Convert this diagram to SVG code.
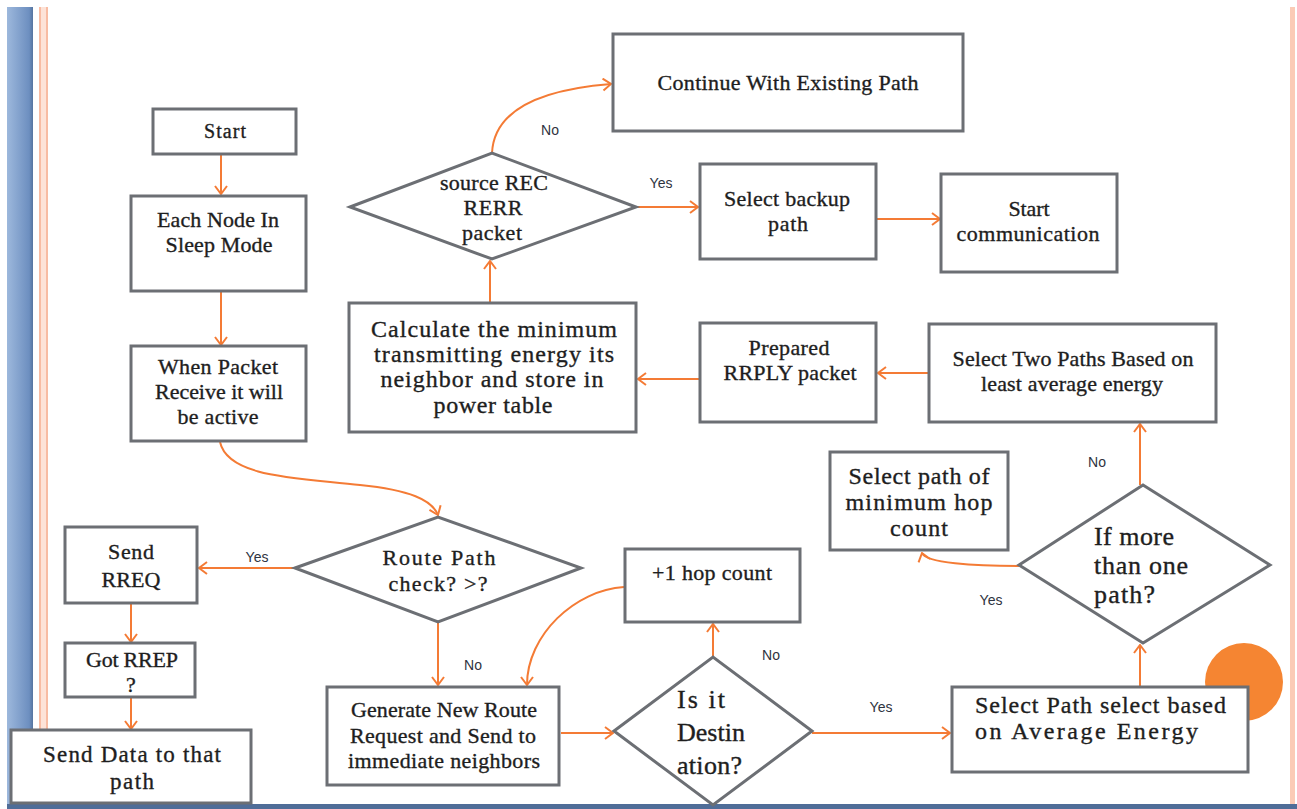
<svg xmlns="http://www.w3.org/2000/svg" width="1297" height="809" viewBox="0 0 1297 809">
<style>
.box{fill:#fff;stroke:#6c6f74;stroke-width:3}
.c{fill:none;stroke:#f47b35;stroke-width:2}
.t{font-family:"Liberation Serif","Times New Roman",serif;font-size:22px;fill:#1e1e1e;stroke:#1e1e1e;stroke-width:0.35;text-anchor:middle}
.tl{font-family:"Liberation Serif","Times New Roman",serif;font-size:26px;fill:#1e1e1e;stroke:#1e1e1e;stroke-width:0.35}
.lb{font-family:"Liberation Sans",Arial,sans-serif;font-size:14px;fill:#2e3340;text-anchor:middle}
</style>
<defs>
<linearGradient id="blue" x1="0" y1="0" x2="1" y2="0">
<stop offset="0" stop-color="#9db8dc"/><stop offset="0.85" stop-color="#6d8fc0"/><stop offset="1" stop-color="#56759f"/>
</linearGradient>
<marker id="ah" viewBox="0 0 10 14" refX="9" refY="7" markerWidth="10" markerHeight="14" markerUnits="userSpaceOnUse" orient="auto">
<path d="M1,1 L9,7 L1,13" fill="none" stroke="#f47b35" stroke-width="2"/>
</marker>
</defs>
<rect x="0" y="0" width="1297" height="809" fill="#fff"/>
<g id="frame">
<rect x="7" y="7" width="26" height="802" fill="url(#blue)"/>
<rect x="39" y="7" width="9" height="797" fill="#fde3d8"/>
<line x1="40" y1="7" x2="40" y2="804" stroke="#f8bca3" stroke-width="2"/>
<line x1="47" y1="7" x2="47" y2="804" stroke="#f8bca3" stroke-width="2"/>
<rect x="1290" y="7" width="5" height="797" fill="#fbcbb6"/>
<rect x="7" y="804" width="1290" height="5" fill="#4f6d98"/>
<circle cx="1244" cy="682" r="39" fill="#f58532"/>
</g>
<g id="connectors">
<line class="c" x1="221" y1="155" x2="221" y2="194" marker-end="url(#ah)"/>
<line class="c" x1="221" y1="292" x2="221" y2="345" marker-end="url(#ah)"/>
<path class="c" d="M220,442 C228,478 300,478 360,485 C410,490 432,500 438,515" marker-end="url(#ah)"/>
<line class="c" x1="295" y1="568" x2="199" y2="568" marker-end="url(#ah)"/>
<line class="c" x1="131" y1="604" x2="131" y2="642" marker-end="url(#ah)"/>
<line class="c" x1="131" y1="698" x2="131" y2="729" marker-end="url(#ah)"/>
<line class="c" x1="438" y1="622" x2="438" y2="685" marker-end="url(#ah)"/>
<line class="c" x1="561" y1="733" x2="613" y2="733" marker-end="url(#ah)"/>
<line class="c" x1="713" y1="657" x2="713" y2="624" marker-end="url(#ah)"/>
<path class="c" d="M624,587 C575,590 527,635 527,685" marker-end="url(#ah)"/>
<line class="c" x1="812" y1="733" x2="950" y2="733" marker-end="url(#ah)"/>
<line class="c" x1="1140" y1="686" x2="1140" y2="645" marker-end="url(#ah)"/>
<line class="c" x1="1140" y1="485" x2="1140" y2="424" marker-end="url(#ah)"/>
<path class="c" d="M1019,566 C975,566 925,563 922,553" marker-end="url(#ah)"/>
<line class="c" x1="929" y1="373" x2="878" y2="373" marker-end="url(#ah)"/>
<line class="c" x1="700" y1="379" x2="638" y2="379" marker-end="url(#ah)"/>
<line class="c" x1="490" y1="302" x2="490" y2="261" marker-end="url(#ah)"/>
<line class="c" x1="636" y1="207" x2="698" y2="207" marker-end="url(#ah)"/>
<line class="c" x1="877" y1="219" x2="940" y2="219" marker-end="url(#ah)"/>
<path class="c" d="M492,153 C494,112 535,90 611,84" marker-end="url(#ah)"/>
<text class="lb" x="550" y="135">No</text>
<text class="lb" x="661" y="188">Yes</text>
<text class="lb" x="257" y="562">Yes</text>
<text class="lb" x="473" y="670">No</text>
<text class="lb" x="771" y="660">No</text>
<text class="lb" x="881" y="712">Yes</text>
<text class="lb" x="1097" y="467">No</text>
<text class="lb" x="991" y="605">Yes</text>
</g>
<g id="n-start">
<rect class="box" x="153" y="109" width="143" height="45"/>
<text class="t" x="225" y="138" style="font-size:20px" textLength="42">Start</text>
</g>
<g id="n-sleep">
<rect class="box" x="131" y="196" width="175" height="95"/>
<text class="t" x="218" y="227" textLength="122">Each Node In</text>
<text class="t" x="219" y="252" textLength="107">Sleep Mode</text>
</g>
<g id="n-active">
<rect class="box" x="131" y="346" width="175" height="95"/>
<text class="t" x="218" y="374" textLength="120">When Packet</text>
<text class="t" x="219" y="399" textLength="128">Receive it will</text>
<text class="t" x="218" y="424" textLength="81">be active</text>
</g>
<g id="n-rreq">
<rect class="box" x="65" y="527" width="132" height="76"/>
<text class="t" x="131" y="559" textLength="46">Send</text>
<text class="t" x="131" y="587" textLength="59">RREQ</text>
</g>
<g id="n-rrep">
<rect class="box" x="65" y="643" width="130" height="54"/>
<text class="t" x="132" y="667" textLength="92">Got RREP</text>
<text class="t" x="131" y="692">?</text>
</g>
<g id="n-senddata">
<rect class="box" x="11" y="730" width="240" height="73"/>
<text class="t" x="132" y="762" style="font-size:23px" textLength="178">Send Data to that</text>
<text class="t" x="132" y="789" style="font-size:23px" textLength="44">path</text>
</g>
<g id="n-routecheck">
<polygon class="box" points="295,568 438,517 581,568 438,622"/>
<text class="t" x="439" y="565" textLength="113">Route Path</text>
<text class="t" x="438" y="591" textLength="99">check? &gt;?</text>
</g>
<g id="n-generate">
<rect class="box" x="327" y="687" width="232" height="98"/>
<text class="t" x="444" y="717" textLength="186">Generate New Route</text>
<text class="t" x="443" y="743" textLength="186">Request and Send to</text>
<text class="t" x="444" y="768" textLength="192">immediate neighbors</text>
</g>
<g id="n-hop">
<rect class="box" x="625" y="549" width="175" height="73"/>
<text class="t" x="712" y="580" textLength="120">+1 hop count</text>
</g>
<g id="n-dest">
<polygon class="box" points="614,731 713,657 812,731 713,805"/>
<text class="tl" x="677" y="708" textLength="48">Is it</text>
<text class="tl" x="677" y="741" textLength="68">Destin</text>
<text class="tl" x="677" y="774" textLength="65">ation?</text>
</g>
<g id="n-avg">
<rect class="box" x="952" y="687" width="296" height="85"/>
<text class="t" x="975" y="713" style="text-anchor:start;font-size:24px" textLength="251">Select  Path select based</text>
<text class="t" x="975" y="739" style="text-anchor:start;font-size:24px" textLength="223">on Average Energy</text>
</g>
<g id="n-more">
<polygon class="box" points="1019,565 1143,485 1270,565 1143,643"/>
<text class="tl" x="1094" y="545" textLength="80">If more</text>
<text class="tl" x="1094" y="574" textLength="94">than one</text>
<text class="tl" x="1094" y="603" textLength="61">path?</text>
</g>
<g id="n-minhop">
<rect class="box" x="830" y="452" width="178" height="98"/>
<text class="t" x="919" y="484" style="font-size:24px" textLength="141">Select path of</text>
<text class="t" x="919" y="510" style="font-size:24px" textLength="147">minimum hop</text>
<text class="t" x="919" y="536" style="font-size:24px" textLength="58">count</text>
</g>
<g id="n-twopaths">
<rect class="box" x="929" y="324" width="287" height="98"/>
<text class="t" x="1073" y="366" textLength="241">Select Two Paths Based on</text>
<text class="t" x="1072" y="391" textLength="182">least average energy</text>
</g>
<g id="n-rrply">
<rect class="box" x="700" y="323" width="176" height="99"/>
<text class="t" x="789" y="355" textLength="81">Prepared</text>
<text class="t" x="790" y="380" textLength="133">RRPLY packet</text>
</g>
<g id="n-calc">
<rect class="box" x="349" y="303" width="287" height="129"/>
<text class="t" x="494" y="337" style="font-size:24px" textLength="246">Calculate the minimum</text>
<text class="t" x="494" y="362" style="font-size:24px" textLength="240">transmitting energy its</text>
<text class="t" x="492" y="387" style="font-size:24px" textLength="223">neighbor and store in</text>
<text class="t" x="493" y="413" style="font-size:24px" textLength="119">power table</text>
</g>
<g id="n-rerr">
<polygon class="box" points="350,207 492,153 636,207 492,259"/>
<text class="t" x="494" y="190" textLength="108">source REC</text>
<text class="t" x="493" y="215" textLength="59">RERR</text>
<text class="t" x="492" y="240" textLength="60">packet</text>
</g>
<g id="n-continue">
<rect class="box" x="613" y="34" width="350" height="97"/>
<text class="t" x="788" y="90" textLength="261">Continue With Existing  Path</text>
</g>
<g id="n-backup">
<rect class="box" x="700" y="164" width="176" height="95"/>
<text class="t" x="787" y="206" textLength="126">Select backup</text>
<text class="t" x="788" y="231" textLength="40">path</text>
</g>
<g id="n-startcomm">
<rect class="box" x="941" y="174" width="176" height="98"/>
<text class="t" x="1029" y="216" textLength="41">Start</text>
<text class="t" x="1028" y="241" textLength="143">communication</text>
</g>
</svg>
